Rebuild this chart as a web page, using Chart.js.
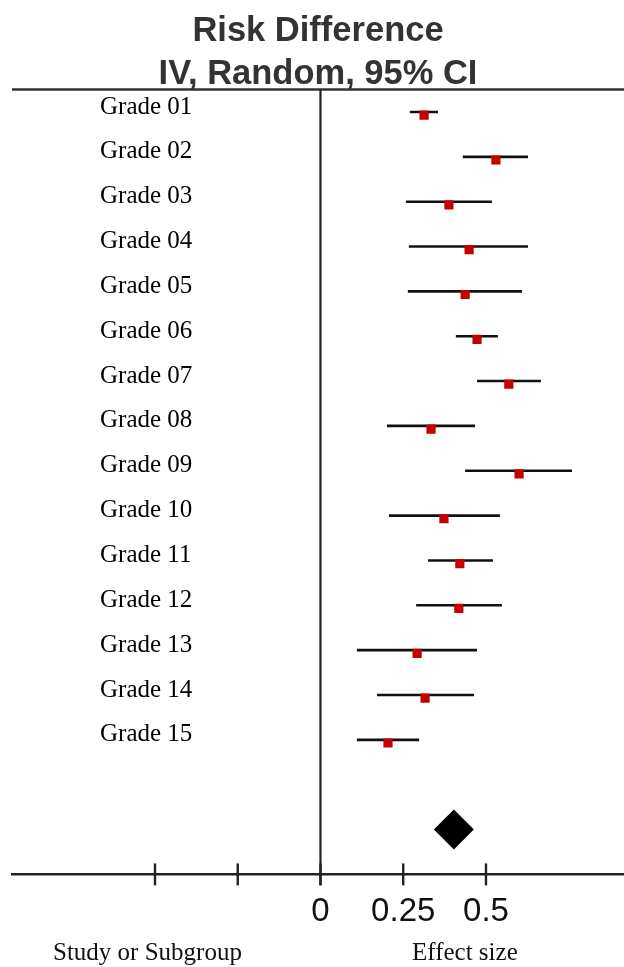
<!DOCTYPE html>
<html>
<head>
<meta charset="utf-8">
<title>Risk Difference forest plot</title>
<script src="https://cdn.jsdelivr.net/npm/chart.js@4.4.1/dist/chart.umd.min.js"></script>
<style>
    html, body { margin: 0; padding: 0; background: #fff; }
    #wrap { width: 624px; height: 967px; position: relative; }
</style>
</head>
<body>
<div id="wrap"><canvas id="forest"></canvas></div>
<script>
// 各組資料 (從圖上讀出來的估計值)
const grades = ['Grade 01', 'Grade 02', 'Grade 03', 'Grade 04', 'Grade 05',
    'Grade 06', 'Grade 07', 'Grade 08', 'Grade 09', 'Grade 10',
    'Grade 11', 'Grade 12', 'Grade 13', 'Grade 14', 'Grade 15'];
const effect = [0.313, 0.530, 0.388, 0.449, 0.437, 0.473, 0.569, 0.334, 0.600, 0.373, 0.421, 0.418, 0.292, 0.316, 0.204];
const ciLow  = [0.270, 0.430, 0.258, 0.267, 0.264, 0.409, 0.473, 0.201, 0.437, 0.207, 0.325, 0.289, 0.110, 0.171, 0.110];
const ciHigh = [0.355, 0.627, 0.518, 0.627, 0.609, 0.536, 0.666, 0.467, 0.760, 0.542, 0.521, 0.548, 0.473, 0.464, 0.298];
const pooledEffect = 0.403;
const tickValues = [-0.5, -0.25, 0, 0.25, 0.5];
const tickLabels = ['', '', '0', '0.25', '0.5'];

const titleLines = ['Risk Difference', 'IV, Random, 95% CI'];
const leftFooter = 'Study or Subgroup';
const rightFooter = 'Effect size';

// 軸範圍
const X_MIN = -0.932, X_MAX = 0.917;
const Y_MIN = -0.5, Y_MAX = 17;
const POOLED_ROW = 16;
const MARK_DROP = 0.07; // 方塊比線稍微低一點

// 每一列的信賴區間線
const ciDatasets = grades.map((g, i) => ({
    label: g,
    data: [{ x: ciLow[i], y: i }, { x: ciHigh[i], y: i }],
    showLine: true,
    borderColor: '#111',
    borderWidth: 2.6,
    pointRadius: 0,
    order: 5
}));

const footerPlugin = {
    id: 'footerLabels',
    afterDraw(chart) {
        const ctx = chart.ctx;
        ctx.save();
        ctx.font = '25px "Liberation Serif"';
        ctx.fillStyle = '#111';
        ctx.textBaseline = 'alphabetic';
        ctx.textAlign = 'left';
        ctx.fillText(leftFooter, 53, 960);
        ctx.fillText(rightFooter, 412, 960);
        ctx.restore();
    }
};

new Chart(document.getElementById('forest'), {
    type: 'scatter',
    data: {
        datasets: [
            {
                label: 'effect',
                data: effect.map((v, i) => ({ x: v, y: i + MARK_DROP })),
                pointStyle: 'rect',
                pointRadius: 6.5,
                backgroundColor: '#c40000',
                borderWidth: 0,
                order: 1
            },
            {
                label: 'pooled',
                data: [{ x: pooledEffect, y: POOLED_ROW }],
                pointStyle: 'rectRot',
                pointRadius: 20,
                backgroundColor: '#000',
                borderWidth: 0,
                order: 2
            },
            ...ciDatasets,
            {
                label: 'zero line',
                data: [{ x: 0, y: Y_MIN }, { x: 0, y: 17.24 }],
                showLine: true,
                borderColor: '#222',
                borderWidth: 2.2,
                pointRadius: 0,
                clip: false,
                order: 8
            },
            {
                label: 'top line',
                data: [{ x: X_MIN, y: Y_MIN }, { x: X_MAX, y: Y_MIN }],
                showLine: true,
                borderColor: '#333',
                borderWidth: 2.6,
                pointRadius: 0,
                clip: false,
                order: 8
            },
            {
                label: 'ticks',
                data: tickValues.map(v => ({ x: v, y: Y_MAX })),
                pointStyle: 'line',
                rotation: 90,
                pointRadius: 11,
                borderColor: '#222',
                borderWidth: 2.4,
                clip: false,
                order: 9
            }
        ]
    },
    options: {
        responsive: true,
        maintainAspectRatio: false,
        animation: false,
        events: [],
        layout: { autoPadding: false, padding: { left: 12, right: 0, top: 0, bottom: 17 } },
        plugins: {
            legend: { display: false },
            tooltip: { enabled: false },
            title: {
                display: true,
                text: titleLines,
                color: '#333',
                font: { family: '"Liberation Sans", Arial, sans-serif', size: 34.5, weight: 'bold', lineHeight: 1.24 },
                padding: { top: 10, bottom: -6 }
            }
        },
        scales: {
            x: {
                type: 'linear',
                min: X_MIN,
                max: X_MAX,
                afterBuildTicks: s => { s.ticks = tickValues.map(v => ({ value: v })); },
                ticks: {
                    autoSkip: false,
                    maxRotation: 0,
                    padding: 18,
                    color: '#111',
                    font: { family: '"Liberation Sans", Arial, sans-serif', size: 33 },
                    callback: (v, i) => tickLabels[i]
                },
                grid: { display: false, drawTicks: false },
                border: { display: true, color: '#222', width: 2.6 }
            },
            y: {
                type: 'linear',
                reverse: true,
                min: Y_MIN,
                max: Y_MAX,
                afterBuildTicks: s => { s.ticks = grades.map((g, i) => ({ value: i })); },
                // 標籤畫在圖內，不佔寬度也不加上下留白
                afterFit: s => { s.width = 0; s.paddingTop = 0; s.paddingBottom = 0; },
                ticks: {
                    autoSkip: false,
                    mirror: true,
                    padding: 88,
                    labelOffset: -5,
                    color: '#000',
                    font: { family: '"Liberation Serif", "Times New Roman", serif', size: 25 },
                    callback: (v) => grades[v]
                },
                grid: { display: false, drawTicks: false },
                border: { display: false }
            }
        }
    },
    plugins: [footerPlugin]
});
</script>
</body>
</html>
